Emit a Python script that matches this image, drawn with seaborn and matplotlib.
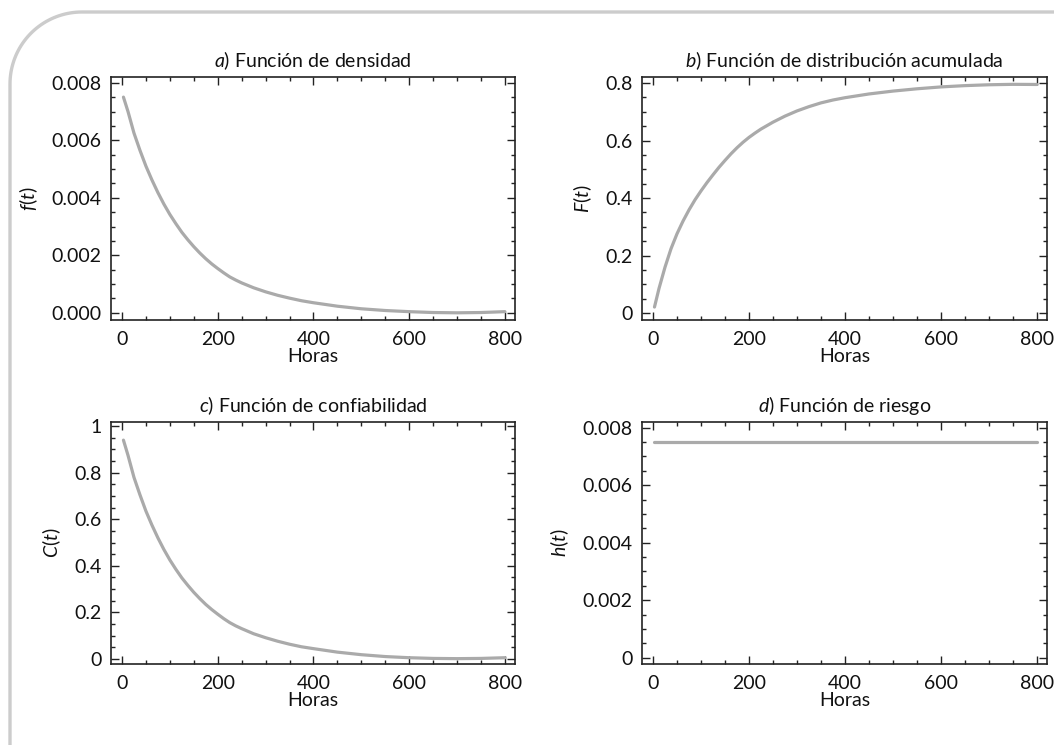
import numpy as np
import pandas as pd
import matplotlib
matplotlib.use("Agg")
import matplotlib.pyplot as plt
from matplotlib.lines import Line2D
from matplotlib.ticker import MultipleLocator, FixedLocator, FixedFormatter
import seaborn as sns

# values
horas = [3, 12.5, 25, 37.5, 50, 62.5, 75, 87.5, 100, 112.5, 125, 137.5, 150,
         162.5, 175, 187.5, 200, 212.5, 225, 237.5, 250, 275, 300, 325, 350,
         375, 400, 450, 500, 550, 600, 650, 700, 750, 800]
densidad = [0.0075, 0.0070, 0.00625, 0.00565, 0.0051, 0.00462, 0.00418,
            0.00378, 0.00342, 0.0031, 0.0028, 0.00254, 0.0023, 0.00208,
            0.00188, 0.0017, 0.00154, 0.00139, 0.00125, 0.00114, 0.00104,
            0.00087, 0.00073, 0.00061, 0.00051, 0.00042, 0.00035, 0.00023,
            0.00014, 0.00008, 0.00004, 0.00001, 0.0, 0.00001, 0.00004]
acumulada = [0.021, 0.086, 0.160, 0.224, 0.276, 0.320, 0.359, 0.394, 0.425,
             0.454, 0.481, 0.507, 0.531, 0.554, 0.575, 0.594, 0.611, 0.626,
             0.640, 0.652, 0.664, 0.685, 0.703, 0.718, 0.731, 0.741, 0.749,
             0.762, 0.772, 0.780, 0.7865, 0.791, 0.794, 0.7955, 0.795]
confiabilidad = [0.94, 0.875, 0.78, 0.705, 0.635, 0.575, 0.52, 0.47, 0.425,
                 0.385, 0.348, 0.316, 0.286, 0.259, 0.234, 0.212, 0.192,
                 0.173, 0.156, 0.142, 0.13, 0.108, 0.091, 0.076, 0.063, 0.052,
                 0.044, 0.029, 0.018, 0.01, 0.005, 0.002, 0.001, 0.002, 0.005]
riesgo = [0.0075] * len(horas)

titulos = [r"$a$) Función de densidad",
           r"$b$) Función de distribución acumulada",
           r"$c$) Función de confiabilidad",
           r"$d$) Función de riesgo"]
etiquetas_y = [r"$f(t)$", r"$F(t)$", r"$C(t)$", r"$h(t)$"]
ticks_y = [[0, 0.002, 0.004, 0.006, 0.008],
           [0, 0.2, 0.4, 0.6, 0.8],
           [0, 0.2, 0.4, 0.6, 0.8, 1.0],
           [0, 0.002, 0.004, 0.006, 0.008]]
textos_y = [["0.000", "0.002", "0.004", "0.006", "0.008"],
            ["0", "0.2", "0.4", "0.6", "0.8"],
            ["0", "0.2", "0.4", "0.6", "0.8", "1"],
            ["0", "0.002", "0.004", "0.006", "0.008"]]
limites_y = [(-0.00025, 0.0082), (-0.024, 0.821), (-0.022, 1.018), (-0.00022, 0.0082)]
menores_y = [0.0005, 0.05, 0.05, 0.0005]

df = pd.DataFrame({"Horas": horas, "f": densidad, "F": acumulada,
                   "C": confiabilidad, "h": riesgo})
columnas = ["f", "F", "C", "h"]

sns.set_style("ticks")
plt.rcParams["font.family"] = ["Lato", "DejaVu Sans"]
plt.rcParams["mathtext.fontset"] = "custom"
plt.rcParams["mathtext.rm"] = "Lato"
plt.rcParams["mathtext.it"] = "Lato:italic"

W, H = 1054, 745
fig = plt.figure(figsize=(W / 100, H / 100), dpi=100)

# axes boxes in pixels: left, top, right, bottom
cajas = [(111, 77, 515, 320), (642, 77, 1047, 320),
         (111, 422, 515, 664), (642, 422, 1047, 664)]

for i, col in enumerate(columnas):
    l, t, r, b = cajas[i]
    ax = fig.add_axes([l / W, 1 - b / H, (r - l) / W, (b - t) / H])
    sns.lineplot(data=df, x="Horas", y=col, ax=ax, color="#aaaaaa", lw=2.3)
    ax.set_xlim(-23, 821)
    ax.set_ylim(*limites_y[i])
    ax.xaxis.set_major_locator(FixedLocator([0, 200, 400, 600, 800]))
    ax.xaxis.set_minor_locator(MultipleLocator(50))
    ax.yaxis.set_major_locator(FixedLocator(ticks_y[i]))
    ax.yaxis.set_major_formatter(FixedFormatter(textos_y[i]))
    ax.yaxis.set_minor_locator(MultipleLocator(menores_y[i]))
    ax.tick_params(which="both", direction="in", top=True, right=True,
                   colors="#222222", labelcolor="#111111", labelsize=14, width=1.0)
    ax.tick_params(which="major", length=5.5)
    ax.tick_params(axis="x", which="major", pad=8)
    ax.tick_params(axis="y", which="major", pad=7)
    ax.tick_params(which="minor", length=3)
    for s in ax.spines.values():
        s.set_color("#222222")
        s.set_linewidth(1.2)
    ax.set_title(titulos[i], fontsize=14, pad=7, color="#111111")
    ax.set_xlabel("Horas", fontsize=14, labelpad=0, color="#111111")
    ax.set_ylabel(etiquetas_y[i], fontsize=14, labelpad=8, color="#111111")

# decorative rounded border at top-left
rad = 72
ang = np.linspace(np.pi, 1.5 * np.pi, 40)
cx, cy = 10 + rad, 12 + rad
xs = [10] + list(cx + rad * np.cos(ang)) + [W]
ys = [H] + list(cy + rad * np.sin(ang)) + [12]
fig.add_artist(Line2D(np.array(xs) / W, 1 - np.array(ys) / H,
                      transform=fig.transFigure, color="#cccccc", lw=2.4))

fig.savefig("out.png", dpi=100)
